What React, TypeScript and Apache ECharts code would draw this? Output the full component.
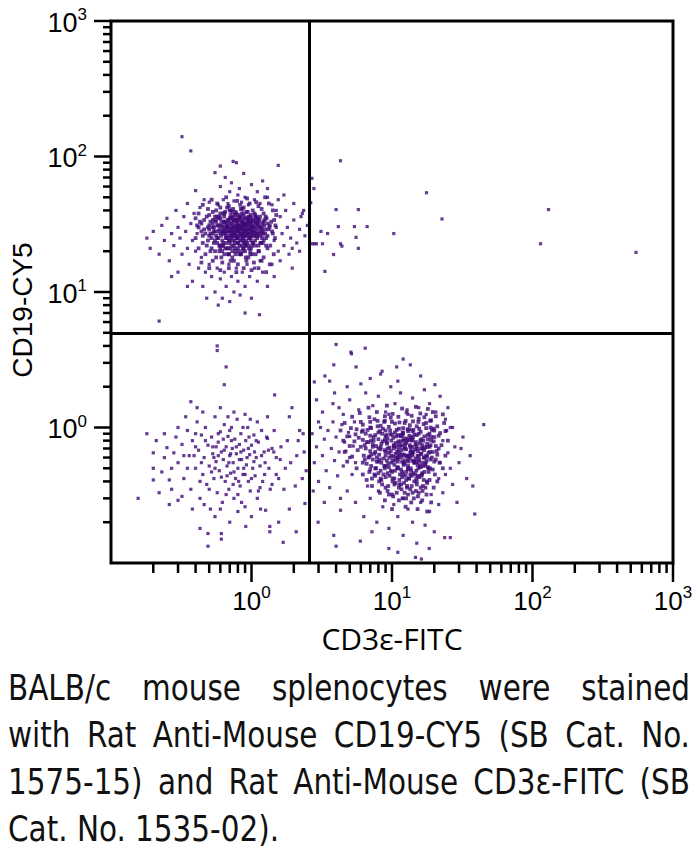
import React, { useEffect, useRef } from 'react';
import * as echarts from 'echarts';

// ---- axes ----
const AXIS_MIN = 0.1;
const AXIS_MAX = 1000;
const MAJOR_TICKS = [1, 10, 100, 1000];
const MINOR_TICKS = [0.2, 0.3, 0.4, 0.5, 0.6, 0.7, 0.8, 0.9, 2, 3, 4, 5, 6, 7, 8, 9, 20, 30, 40, 50, 60, 70, 80, 90, 200, 300, 400, 500, 600, 700, 800, 900];
const X_NAME = 'CD3ε-FITC';
const Y_NAME = 'CD19-CY5';

// ---- quadrant gates ----
const GATE_X = 2.58;
const GATE_Y = 5.0;

// ---- events: CD19+ (upper left) ----
const CD19_DENSE = [
  [0.51,27],[0.53,30],[0.55,24],[0.56,33],[0.58,28],[0.59,20],[0.6,35],[0.61,26],[0.62,31],[0.63,23],[0.64,38],[0.65,27],[0.66,30],[0.67,21],[0.68,34],[0.68,28],[0.69,24],[0.7,32],[0.71,37],[0.72,25],[0.73,30],[0.73,20],[0.74,28],[0.75,34],[0.76,23],[0.77,29],[0.77,39],[0.78,26],[0.79,31],[0.8,21],[0.8,33],[0.81,28],[0.82,24],[0.83,36],[0.84,30],[0.85,22],[0.86,27],[0.86,33],[0.87,25],[0.88,38],[0.89,29],[0.9,20],[0.9,26],[0.91,32],[0.92,24],[0.93,35],[0.94,29],[0.95,22],[0.96,27],[0.97,33],[0.98,25],[0.99,37],[1.0,29],[1.01,22],[1.02,26],[1.03,34],[1.05,30],[1.06,24],[1.08,36],[1.09,27],[1.11,31],[1.12,22],[1.14,34],[1.16,26],[1.18,29],[1.2,23],[1.22,33],[1.25,27],
  [0.57,31],[0.62,28],[0.66,25],[0.7,28],[0.74,31],[0.78,28],[0.82,31],[0.86,30],[0.9,28],[0.94,31],[0.98,28],[1.04,27],[0.64,33],[0.72,35],[0.8,25],[0.88,23],[0.96,35],[1.07,32],[0.6,22],[0.69,19],[0.84,19],[0.98,19],[0.7,40],[0.86,41],[0.55,36]
];
const CD19_CORE = [
  [0.42,30],[0.45,26],[0.46,34],[0.48,22],[0.5,29],[0.5,37],[0.52,25],[0.53,32],[0.55,20],[0.55,28],[0.56,40],[0.57,23],[0.58,35],[0.6,27],[0.6,31],[0.61,18],[0.62,24],[0.63,38],[0.64,29],[0.65,21],[0.65,33],[0.66,26],[0.67,42],[0.68,30],[0.69,19],[0.7,24],[0.7,35],[0.71,28],[0.72,22],[0.72,32],[0.73,39],[0.74,26],[0.75,17],[0.75,30],[0.76,21],[0.77,34],[0.78,25],[0.79,28],[0.8,37],[0.8,23],[0.81,31],[0.82,19],[0.83,27],[0.84,41],[0.85,24],[0.85,33],[0.86,29],[0.87,21],[0.88,36],[0.89,26],[0.9,31],[0.91,18],[0.92,28],[0.93,23],[0.94,39],[0.95,33],[0.96,25],[0.97,29],[0.98,20],[1.0,35],[1.0,27],[1.02,31],[1.03,23],[1.05,38],[1.06,28],[1.08,33],[1.1,25],[1.12,30],[1.13,20],[1.15,36],[1.17,27],[1.2,32],[1.22,24],[1.25,29],[1.28,35],[1.3,26],[1.35,31],[1.4,28],
  [0.44,32],[0.47,27],[0.49,24],[0.51,33],[0.52,21],[0.54,30],[0.56,26],[0.57,36],[0.59,22],[0.59,29],[0.61,33],[0.62,20],[0.63,27],[0.64,36],[0.66,23],[0.66,31],[0.67,28],[0.68,19],[0.69,34],[0.7,26],[0.71,40],[0.72,29],[0.73,24],[0.74,33],[0.75,22],[0.76,27],[0.76,37],[0.77,19],[0.78,31],[0.79,25],[0.8,29],[0.81,34],[0.82,22],[0.83,30],[0.84,26],[0.85,38],[0.86,20],[0.87,31],[0.88,24],[0.89,28],[0.9,35],[0.91,22],[0.92,32],[0.93,26],[0.95,29],[0.96,21],[0.97,36],[0.99,24],[1.0,30],[1.01,19],[1.03,33],[1.04,26],[1.06,22],[1.07,35],[1.09,29],[1.11,27],[1.13,32],[1.16,23],[1.18,30],[1.21,27],[1.24,34],[1.27,22],[1.32,29],[1.38,33],
  [0.46,29],[0.5,31],[0.53,27],[0.55,34],[0.58,25],[0.6,38],[0.62,30],[0.63,22],[0.65,28],[0.67,32],[0.68,25],[0.7,30],[0.71,21],[0.73,28],[0.74,36],[0.76,24],[0.77,30],[0.78,33],[0.8,26],[0.81,20],[0.83,35],[0.84,29],[0.86,25],[0.87,34],[0.88,28],[0.9,23],[0.91,30],[0.93,34],[0.94,27],[0.96,31],[0.98,26],[0.99,33],[1.01,28],[1.04,30],[1.08,26],[1.1,32],[1.14,28],[1.19,25],[1.23,31],[0.72,26],[0.79,35],[0.85,27],[0.82,29],[0.75,27],[0.89,32],
  [0.52,48],[0.66,50],[0.79,47],[0.93,49],[1.08,46],[1.25,50],
  [0.45,44],[0.57,45],[0.69,43],[0.83,44],[0.97,45],[1.12,43],[1.33,45],
  [0.49,41],[0.6,42],[0.74,41],[0.88,42],[1.02,40],[1.18,41],[1.42,40],
  [0.42,38],[0.53,39],[0.65,39],[0.78,38],[0.92,39],[1.06,37],[1.22,38],[1.5,37],
  [0.4,35],[0.48,36],[0.59,36],[0.71,35],[0.83,36],[0.95,36],[1.1,35],[1.26,36],[1.45,34],
  [0.43,33],[0.53,34],[0.64,33],[0.75,34],[0.86,32],[0.98,33],[1.12,34],[1.3,32],[1.48,31],
  [0.41,31],[0.49,30],[0.58,31],[0.67,30],[0.78,30],[0.88,31],[1.0,31],[1.16,30],[1.34,30],
  [0.44,28],[0.54,28],[0.62,28],[0.72,27],[0.81,28],[0.91,27],[1.03,28],[1.2,28],[1.42,27],
  [0.4,25],[0.5,26],[0.57,25],[0.66,25],[0.76,26],[0.86,26],[0.97,25],[1.1,26],[1.27,25],[1.47,25],
  [0.45,23],[0.54,23],[0.62,22],[0.7,23],[0.8,23],[0.9,22],[1.02,23],[1.16,23],[1.36,22],
  [0.42,21],[0.51,20],[0.6,21],[0.68,21],[0.77,20],[0.88,21],[0.99,21],[1.12,20],[1.3,21],
  [0.47,19],[0.56,18],[0.64,19],[0.73,18],[0.84,19],[0.95,18],[1.07,19],[1.22,18],[1.44,19],
  [0.44,16.5],[0.53,17],[0.62,16.5],[0.71,17],[0.8,16],[0.92,17],[1.04,16.5],[1.18,17],[1.35,16],
  [0.5,15],[0.6,14.5],[0.69,15],[0.78,14],[0.88,15],[1.0,14.5],[1.12,15],[1.27,14]
];
const CD19_HALO = [
  [0.18,25],[0.19,21],[0.2,28],[0.22,19],[0.23,31],[0.24,24],[0.25,35],[0.26,17],[0.27,27],[0.28,22],[0.29,40],[0.3,14],[0.3,30],[0.31,25],[0.32,19],[0.33,36],[0.34,28],[0.35,21],[0.35,45],[0.36,16],[0.37,32],[0.38,24],[0.38,12],[0.39,38],[0.4,20],[0.41,27],[0.42,15],[0.43,42],[0.44,18],[0.45,11],[0.46,48],[0.47,14],
  [0.5,16],[0.52,13],[0.55,10],[0.57,15],[0.6,12.5],[0.62,9],[0.64,14],[0.66,11],[0.69,16],[0.7,8.5],[0.72,13],[0.75,10],[0.78,15],[0.8,12],[0.83,9.5],[0.86,14],[0.9,11],[0.93,16],[0.97,13],[1.0,9],[1.05,15],[1.1,12],[1.15,17],[1.2,14],[1.3,11],[1.4,16],[0.48,9],[0.58,8],[0.9,7],[0.22,6.1],[1.14,6.8],[0.35,11],[0.27,13],
  [0.5,46],[0.55,76],[0.58,44],[0.6,60],[0.63,48],[0.65,70],[0.68,45],[0.7,55],[0.72,64],[0.75,47],[0.78,90],[0.8,52],[0.82,58],[0.85,46],[0.88,75],[0.9,50],[0.95,44],[1.0,62],[1.05,48],[1.1,55],[1.15,45],[1.2,66],[1.3,50],[1.4,44],[0.74,92],[0.6,85],[0.4,56],[0.32,140],[0.37,110],[1.55,86],
  [1.45,24],[1.5,30],[1.55,20],[1.6,36],[1.65,27],[1.7,22],[1.75,40],[1.8,30],[1.9,25],[2.0,34],[2.1,23],[2.2,29],[2.3,38],[2.4,26],[1.5,40],[1.6,17],[1.85,19],[2.0,45],[1.7,52],[2.5,31],[2.2,20],[1.45,13],[1.95,15],[1.3,58],[1.55,48],[2.25,36],[2.35,40],[1.95,21]
];

// ---- events: CD19+ CD3+ (upper right) ----
const DOUBLE_POS = [
  [4.3,93],[2.69,69],[2.78,58],[2.64,45.6],[4.0,40.6],[5.76,40.6],[4.15,30.4],[5.4,30.4],[6.65,30.4],[3.12,28],[3.48,27],[5.55,25.3],[10.3,27],[2.7,22.7],[2.8,22.7],[2.9,22.7],[3.2,22.7],[4.3,22.7],[4.4,21.8],[5.76,21],[3.84,18.9],[3.33,14.2],[17.6,54],[22.7,34.6],[114,22.7],[130,40.6],[545,19.6]
];

// ---- events: CD3+ (lower right) ----
const CD3_DENSE = [
  [7.1,0.63],[7.4,0.8],[7.7,0.5],[8.0,0.7],[8.2,0.58],[8.5,0.9],[8.7,0.45],[9.0,0.66],[9.2,0.78],[9.4,0.54],[9.7,0.95],[9.9,0.62],[10.1,0.42],[10.3,0.74],[10.5,0.57],[10.7,0.86],[10.9,0.5],[11.1,0.68],[11.3,0.38],[11.5,0.79],[11.7,0.6],[11.9,0.92],[12.1,0.53],[12.3,0.7],[12.5,0.44],[12.7,0.83],[12.9,0.62],[13.1,0.56],[13.3,0.97],[13.5,0.72],[13.7,0.48],[13.9,0.64],[14.1,0.85],[14.4,0.55],[14.7,0.75],[15.0,0.4],[15.2,0.62],[15.5,0.9],[15.8,0.52],[16.1,0.7],[16.4,0.46],[16.7,0.8],[17.0,0.6],[17.4,0.55],[17.8,0.72],[18.2,0.5],[18.6,0.66],[19,0.85],
  [7.8,0.6],[8.4,0.76],[8.8,0.52],[9.3,0.7],[9.8,0.48],[10.2,0.84],[10.6,0.64],[11.0,0.56],[11.4,0.72],[11.8,0.47],[12.2,0.63],[12.6,0.77],[13.0,0.5],[13.4,0.6],[13.8,0.8],[14.2,0.66],[14.6,0.45],[15.1,0.7],[15.6,0.58],[16.2,0.64],[16.8,0.52],[17.5,0.62],[9.1,0.88],[10.4,0.38],[11.6,0.88],[12.8,0.36],[14.0,0.94],[15.3,0.44],[8.3,0.42],[18.0,0.82],[7.3,0.72],[9.6,0.6],[11.2,0.62],[12.4,0.57],[13.6,0.68],[10.8,0.72],[12.0,0.8],[13.2,0.42],[14.8,0.56],[16.5,0.74],
  [6.2,0.95],[6.6,0.78],[7.0,1.1],[7.9,1.02],[8.9,1.12],[6.4,0.58],[6.9,0.47],[9.5,0.32],[11.9,0.3],[14.3,0.3],[17.3,0.36],[20.5,0.58],[21.5,0.7],[19.8,0.98]
];
const CD3_CORE = [
  [7.5,1.15],[9.8,1.18],[12.5,1.12],[15.5,1.16],[19,1.13],
  [6.2,1.05],[8.3,1.03],[10.5,1.07],[13.4,1.04],[16.8,1.06],[21,1.02],
  [5.6,0.97],[7.1,0.99],[9.0,0.95],[11.2,0.98],[14.2,0.96],[17.5,0.99],
  [6.5,0.9],[8.0,0.92],[10.0,0.89],[12.0,0.91],[15.0,0.88],[18.5,0.9],[22,0.91],
  [5.8,0.84],[7.4,0.85],[9.3,0.83],[11.5,0.86],[13.6,0.84],[16.2,0.82],[20,0.85],
  [6.8,0.78],[8.6,0.79],[10.6,0.77],[12.8,0.8],[14.8,0.78],[17.8,0.76],
  [6.0,0.72],[7.7,0.73],[9.6,0.71],[11.8,0.74],[13.9,0.72],[16.5,0.7],[20.5,0.73],
  [7.0,0.67],[8.9,0.68],[10.9,0.66],[12.6,0.69],[15.3,0.67],[18.2,0.65],
  [6.3,0.62],[8.1,0.63],[10.2,0.61],[11.9,0.63],[14.0,0.62],[16.8,0.6],[21,0.63],
  [7.3,0.58],[9.2,0.57],[11.0,0.59],[13.1,0.58],[15.5,0.56],[18.8,0.58],
  [6.6,0.54],[8.4,0.55],[10.4,0.53],[12.3,0.54],[14.5,0.55],[17.2,0.53],
  [7.6,0.5],[9.5,0.51],[11.6,0.49],[13.6,0.5],[16.0,0.51],[19.5,0.49],
  [8.0,0.46],[10.0,0.47],[12.0,0.45],[14.2,0.46],[17.0,0.47],
  [7.2,0.42],[9.0,0.43],[11.3,0.41],[13.2,0.42],[15.6,0.43],[18.5,0.41],
  [8.5,0.38],[10.6,0.39],[12.8,0.37],[15.0,0.38],[17.8,0.39],
  [9.3,0.34],[11.7,0.35],[14.0,0.33],[16.5,0.34],
  [10.2,0.31],[12.6,0.3],[15.3,0.31],
  [8.8,1.1],[11.3,1.09],[14.1,1.11],[17.5,1.08],
  [7.0,1.0],[9.5,1.01],[12.0,0.99],[15.0,1.02],[18.8,1.0],
  [6.1,0.93],[8.2,0.94],[10.5,0.92],[13.0,0.94],[16.0,0.93],[20.0,0.95],
  [7.0,0.87],[9.0,0.86],[11.0,0.88],[13.3,0.87],[17.0,0.86],
  [6.2,0.81],[8.0,0.82],[9.9,0.8],[12.2,0.82],[14.0,0.81],[19.0,0.8],
  [7.3,0.75],[9.2,0.76],[11.2,0.75],[13.4,0.74],[15.8,0.76],[18.8,0.74],
  [6.5,0.7],[8.3,0.69],[10.3,0.7],[12.3,0.71],[14.6,0.69],[17.2,0.71],
  [7.5,0.64],[9.5,0.65],[11.4,0.64],[13.5,0.65],[16.0,0.64],[19.5,0.66],
  [6.8,0.6],[8.7,0.59],[10.7,0.6],[12.6,0.61],[14.8,0.59],[17.8,0.61],
  [7.8,0.56],[9.9,0.55],[11.8,0.56],[14.0,0.57],[16.4,0.55],[20.0,0.56],
  [7.1,0.52],[9.0,0.52],[11.0,0.51],[13.0,0.52],[15.2,0.53],[18.0,0.51],
  [8.3,0.48],[10.5,0.48],[12.6,0.47],[14.9,0.48],[18.2,0.47],
  [7.6,0.44],[9.6,0.44],[11.8,0.43],[13.8,0.44],[16.3,0.45],
  [8.1,0.4],[10.1,0.4],[12.2,0.39],[14.4,0.4],[16.8,0.41],
  [9.0,0.36],[11.2,0.36],[13.5,0.35],[16.0,0.36],
  [10.8,0.33],[13.0,0.32],[15.5,0.33],
  [6.8,1.4],[9.2,1.45],[11.8,1.38],[14.8,1.42],[18,1.37],
  [5.9,1.28],[7.8,1.3],[10.1,1.26],[12.7,1.29],[15.9,1.27],[19.5,1.3],[23,1.25],
  [5.2,1.2],[6.9,1.19],[8.9,1.21],[11.1,1.2],[13.8,1.22],[17,1.19],[20.5,1.21],
  [4.6,1.08],[6.0,1.1],[7.9,1.12],[10.0,1.1],[12.3,1.08],[15.4,1.1],[18.7,1.12],[23.5,1.08],
  [4.3,0.95],[5.1,0.99],[6.7,0.96],[8.6,0.98],[10.8,0.96],[12.9,0.97],[15.6,0.98],[19.2,0.96],[24,0.94],
  [4.8,0.86],[5.5,0.89],[7.6,0.88],[9.7,0.89],[11.9,0.87],[14.4,0.89],[18.0,0.88],[21.5,0.87],
  [4.5,0.8],[5.4,0.79],[7.1,0.8],[8.9,0.81],[11.1,0.79],[13.2,0.81],[15.9,0.8],[19.8,0.79],[25,0.8],
  [5.0,0.73],[6.4,0.74],[8.3,0.72],[10.3,0.73],[12.4,0.75],[14.9,0.73],[18.5,0.72],[22.5,0.74],
  [4.6,0.66],[5.7,0.68],[7.6,0.66],[9.8,0.67],[11.7,0.68],[13.9,0.66],[16.9,0.68],[20.8,0.67],
  [5.2,0.61],[6.9,0.61],[9.0,0.62],[11.0,0.6],[13.2,0.62],[15.5,0.61],[19.2,0.6],[24,0.62],
  [4.8,0.56],[6.2,0.55],[8.0,0.56],[10.1,0.57],[12.1,0.55],[14.3,0.56],[17.6,0.57],[21.8,0.55],
  [5.6,0.5],[7.0,0.49],[8.9,0.5],[11.0,0.5],[13.0,0.49],[15.4,0.5],[18.6,0.5],[23,0.5],
  [6.2,0.45],[7.5,0.45],[9.3,0.46],[11.4,0.45],[13.5,0.45],[16.2,0.44],[20.2,0.45],
  [6.6,0.41],[8.4,0.41],[10.4,0.42],[12.6,0.41],[14.9,0.42],[17.7,0.4],[21,0.4],
  [7.2,0.37],[9.4,0.37],[11.6,0.38],[13.8,0.37],[16.6,0.37],[19.8,0.36],
  [8.2,0.33],[10.0,0.32],[12.3,0.33],[14.8,0.34],[17.6,0.32],
  [8.9,0.29],[11.2,0.29],[13.7,0.28],[16.4,0.29],[19,0.28],
  [10.0,0.25],[12.5,0.26],[15.2,0.25],[17.8,0.24]
];
const CD3_HALO = [
  [3.2,1.3],[3.8,1.5],[4.5,1.25],[5.0,1.6],[5.8,1.35],[6.5,1.8],[7.3,1.45],[8.0,1.7],[9.0,1.3],[9.8,2.0],[10.5,1.5],[11.5,1.8],[12.8,1.35],[14.0,1.65],[15.5,1.4],[17.0,1.9],[18.5,1.5],[20.5,1.3],[22.0,1.7],[25.0,1.4],[7.0,2.3],[8.5,2.6],[11.0,2.2],[13.5,2.9],[16.0,2.4],[6.0,2.1],[4.8,2.0],[12.0,3.2],[9.5,1.25],[20.2,2.07],[4.0,4.1],[6.45,3.85],[5.15,3.5],[3.85,2.9],[5.55,2.8],[2.8,2.17],[8.3,2.48],[3.33,2.4],[3.6,2.2],[5.1,3.6],[3.9,1.8],[4.2,1.4],[2.9,1.6],[3.0,1.1],[10.8,2.8],[17.5,1.25],[13,1.25],[24,1.15],[27,1.0],
  [2.7,0.9],[2.8,0.55],[2.9,0.72],[3.0,0.4],[3.1,1.0],[3.2,0.62],[3.3,0.82],[3.4,0.48],[3.5,0.95],[3.6,0.36],[3.7,0.7],[3.8,1.1],[3.9,0.57],[4.0,0.85],[4.1,0.44],[4.2,0.66],[4.4,1.05],[4.5,0.52],[4.6,0.78],[4.8,0.34],[4.9,0.92],[5.0,0.6],[5.2,0.45],[5.3,0.73],[5.4,1.1],[4.3,0.3],[3.3,0.28],[2.75,0.34],[5.0,0.86],[4.7,0.67],[5.5,0.55],
  [22,0.55],[23,0.8],[24,0.45],[25,0.65],[26,1.0],[27,0.38],[28,0.72],[30,0.55],[32,0.85],[34,0.42],[36,0.62],[37.6,0.37],[38.8,0.23],[45,1.05],[23,0.33],[29,0.28],[24.5,0.95],[21.5,0.42],[26,0.5],[31,0.7],
  [5.5,0.28],[6.3,0.22],[7.0,0.3],[7.8,0.2],[8.6,0.26],[9.5,0.18],[10.3,0.27],[11.0,0.22],[12.0,0.16],[13.0,0.25],[14.0,0.2],[15.0,0.14],[16.0,0.28],[17.2,0.19],[18.5,0.24],[20.0,0.17],[21.5,0.27],[23.7,0.154],[26,0.154],[18.4,0.128],[9.5,0.128],[5.95,0.145],[4.0,0.133],[3.85,0.16],[2.98,0.2],[4.3,0.245],[14.7,0.11],[16.2,0.107],[12,0.3],[8.0,0.34],[6.7,0.37],[19,0.32],[11,0.12],[7.2,0.17]
];

// ---- events: double negative (lower left) ----
const DOUBLE_NEG = [
  [0.3,0.55],[0.32,0.75],[0.33,0.42],[0.35,0.95],[0.36,0.62],[0.37,0.35],[0.38,0.8],[0.4,0.5],[0.41,1.1],[0.42,0.68],[0.43,0.3],[0.44,0.88],[0.45,0.45],[0.46,0.6],[0.47,1.0],[0.48,0.38],[0.49,0.74],[0.5,0.52],[0.51,0.25],[0.52,0.85],[0.53,0.64],[0.54,0.42],[0.55,1.2],[0.56,0.56],[0.57,0.33],[0.58,0.78],[0.59,0.48],[0.6,0.93],[0.61,0.66],[0.62,0.28],[0.63,0.58],[0.64,1.05],[0.65,0.4],[0.66,0.72],[0.67,0.52],[0.68,0.86],[0.69,0.35],[0.7,0.62],[0.71,0.46],[0.72,1.0],[0.73,0.7],[0.74,0.55],[0.75,0.3],[0.76,0.82],[0.77,0.42],[0.78,0.64],[0.79,1.15],[0.8,0.5],[0.82,0.75],[0.83,0.37],[0.84,0.9],[0.85,0.58],[0.87,0.45],[0.88,0.68],[0.9,0.26],[0.91,0.8],[0.92,0.53],[0.94,1.0],[0.95,0.4],[0.97,0.63],[0.98,0.34],[1.0,0.74],[1.02,0.5],[1.04,0.88],[1.06,0.44],[1.08,0.6],[1.1,0.3],[1.12,0.78],[1.15,0.52],[1.18,0.95],[1.2,0.4],[1.23,0.66],[1.26,0.245],[1.28,0.85],[1.3,0.83],[1.33,0.5],[1.36,0.35],[1.4,0.7],[1.44,0.66],[1.46,1.74],[1.5,0.45],[1.56,0.42],[1.56,0.2],[1.6,0.58],[1.68,0.142],[1.74,0.5],[1.8,0.8],[1.86,1.2],[1.86,0.25],[1.94,1.4],[2.05,0.37],[2.08,0.17],[2.1,0.62],[2.2,0.95],[2.33,0.9],[2.37,0.66],[2.4,0.275],[2.45,0.48],
  [1.35,0.186],[1.35,0.17],[0.91,0.186],[0.61,0.165],[0.61,0.15],[0.49,0.165],[0.49,0.133],[0.43,0.18],[0.32,0.31],[0.3,0.29],[0.27,0.5],[0.26,0.41],[0.25,0.71],[0.23,0.47],[0.2,0.5],[0.2,0.41],[0.21,0.8],[0.18,0.9],[0.156,0.3],[0.3,1.0],[0.41,1.4],[0.37,1.55],[0.64,2.07],[0.66,2.8],[0.57,4.0],[0.57,3.7],[0.55,0.22],[0.7,0.2],[0.8,0.24],[1.0,0.22],[0.38,0.25],[0.28,0.65],[0.34,1.2],[0.45,1.3],[0.6,1.4],[0.75,1.3],[0.9,1.25],[1.1,1.1],[1.3,1.2],[0.24,0.6],[0.22,0.33],[0.52,0.47],[0.58,0.62],[0.67,0.44],[0.74,0.38],[0.82,0.58],[0.88,0.5],[0.95,0.7],[1.05,0.66],[0.63,0.82],[0.56,0.72],[0.44,0.55],[0.4,0.72],[0.7,0.95],[0.8,0.32],[1.15,0.36],[1.25,0.55],
  [0.35,0.5],[0.39,0.62],[0.43,0.4],[0.47,0.8],[0.5,0.35],[0.53,0.72],[0.55,0.5],[0.58,0.9],[0.61,0.43],[0.64,0.68],[0.66,0.32],[0.69,0.55],[0.72,0.8],[0.75,0.47],[0.78,0.72],[0.81,0.4],[0.84,0.66],[0.87,1.0],[0.9,0.45],[0.93,0.6],[0.96,0.85],[1.0,0.42],[1.04,0.56],[1.08,0.8],[1.12,0.34],[1.18,0.62],[1.24,0.45],[1.32,0.68],[1.4,0.38],[1.5,0.6],[1.62,0.72],[1.7,0.35],[0.29,0.85],[0.27,0.35],[0.33,0.62],[0.4,0.9],[0.46,0.27],[0.6,0.25],[0.68,1.2],[0.85,0.28],[0.98,1.15],[1.16,0.25],[1.45,0.95],[1.9,0.55],[2.15,0.8],[2.3,0.42],[0.24,0.9],[0.2,0.65],[0.26,0.27],[0.54,0.6],[0.71,0.64]
];

const CAPTION_LINES = [
  'BALB/c mouse splenocytes were stained',
  'with Rat Anti-Mouse CD19-CY5 (SB Cat. No.',
  '1575-15) and Rat Anti-Mouse CD3ε-FITC (SB',
  'Cat. No. 1535-02).'
];

const DOT_COLOR = '#400a78';
const SANS_HUMANIST = '"Open Sans", "Noto Sans", sans-serif';
const SANS_ARIAL = '"Liberation Sans", Arial, sans-serif';
const CAPTION_FONT = '"DejaVu Sans Condensed", "Liberation Sans", sans-serif';
const CAPTION_SQUEEZE = 0.91;

const expText = (v: number) => {
  const e = Math.round(Math.log10(v));
  if (e < 0) return '';
  return `{b|10}{s|${e}}`;
};

const richFor = (family: string, big: number, small: number) => ({
  b: { fontSize: big, fontFamily: family, color: '#000', lineHeight: 30, verticalAlign: 'bottom' },
  s: { fontSize: small, fontFamily: family, color: '#000', lineHeight: 18, verticalAlign: 'top' }
});

function tickSeries(axis: 'x' | 'y', values: number[], len: number) {
  return {
    type: 'custom',
    coordinateSystem: 'cartesian2d',
    silent: true,
    clip: false,
    z: 10,
    data: values.map((v) => (axis === 'x' ? [v, AXIS_MIN] : [AXIS_MIN, v])),
    renderItem: (_p: any, api: any) => {
      const pt = api.coord([api.value(0), api.value(1)]);
      const shape = axis === 'x'
        ? { x1: pt[0], y1: pt[1], x2: pt[0], y2: pt[1] + len }
        : { x1: pt[0], y1: pt[1], x2: pt[0] - len, y2: pt[1] };
      return { type: 'line', shape, style: { stroke: '#000', lineWidth: 2.5 } };
    }
  };
}

const scatter = (name: string, data: number[][], size: number, extra: any = {}) => ({
  name,
  type: 'scatter',
  data,
  symbol: 'rect',
  symbolSize: size,
  itemStyle: { color: DOT_COLOR },
  silent: true,
  ...extra
});

export default function App() {
  const ref = useRef<HTMLDivElement>(null);
  useEffect(() => {
    if (!ref.current) return;
    const chart = echarts.init(ref.current, null, { renderer: 'svg' });
    chart.setOption({
      animation: false,
      grid: { left: 105, top: 21, width: 568, height: 542, show: true, borderColor: '#000', borderWidth: 3, backgroundColor: 'transparent' },
      xAxis: {
        type: 'log', logBase: 10, min: AXIS_MIN, max: AXIS_MAX,
        name: X_NAME, nameLocation: 'middle', nameGap: 60,
        nameTextStyle: { fontSize: 30, fontFamily: SANS_HUMANIST, color: '#000' },
        axisLine: { show: false }, axisTick: { show: false }, splitLine: { show: false },
        axisLabel: { margin: 21, fontSize: 26, fontFamily: SANS_ARIAL, color: '#000', formatter: expText, rich: richFor(SANS_ARIAL, 26, 17) }
      },
      yAxis: {
        type: 'log', logBase: 10, min: AXIS_MIN, max: AXIS_MAX,
        name: Y_NAME, nameLocation: 'middle', nameGap: 75, nameRotate: 90,
        nameTextStyle: { fontSize: 28, fontFamily: SANS_ARIAL, color: '#000', padding: [0, 36, 0, 0] },
        axisLine: { show: false }, axisTick: { show: false }, splitLine: { show: false },
        axisLabel: { margin: 24, fontSize: 27, fontFamily: SANS_ARIAL, color: '#000', formatter: expText, rich: richFor(SANS_ARIAL, 27, 17) }
      },
      series: [
        scatter('CD19+ halo', CD19_HALO, 3.2, {
          markLine: {
            silent: true, symbol: 'none', label: { show: false },
            lineStyle: { color: '#000', width: 3, type: 'solid' },
            data: [{ xAxis: GATE_X }, { yAxis: GATE_Y }]
          }
        }),
        scatter('CD19+ core', CD19_CORE.concat(CD19_DENSE), 3.8),
        scatter('CD19+CD3+', DOUBLE_POS, 3.2),
        scatter('CD3+ halo', CD3_HALO, 3.2),
        scatter('CD3+ core', CD3_CORE.concat(CD3_DENSE), 3.8),
        scatter('CD19-CD3-', DOUBLE_NEG, 3.2),
        tickSeries('x', MAJOR_TICKS, 19),
        tickSeries('x', MINOR_TICKS, 10),
        tickSeries('y', MAJOR_TICKS, 17),
        tickSeries('y', MINOR_TICKS, 8)
      ]
    });
    return () => chart.dispose();
  }, []);

  const innerWidth = 682 / CAPTION_SQUEEZE;
  return (
    <div style={{ position: 'absolute', left: 0, top: 0, width: 700, height: 866, background: '#fff', overflow: 'hidden' }}>
      <div ref={ref} style={{ position: 'absolute', left: 0, top: 0, width: 700, height: 660 }} />
      <div style={{ position: 'absolute', left: 8, top: 664, width: innerWidth, transform: `scaleX(${CAPTION_SQUEEZE})`, transformOrigin: 'left top', fontFamily: CAPTION_FONT, fontSize: 36, lineHeight: '47px', color: '#111' }}>
        {CAPTION_LINES.map((line, i) => (
          <div key={i} style={{ whiteSpace: 'nowrap', textAlign: i < CAPTION_LINES.length - 1 ? 'justify' : 'left', textAlignLast: i < CAPTION_LINES.length - 1 ? 'justify' : 'left' } as any}>
            {line}
          </div>
        ))}
      </div>
    </div>
  );
}
